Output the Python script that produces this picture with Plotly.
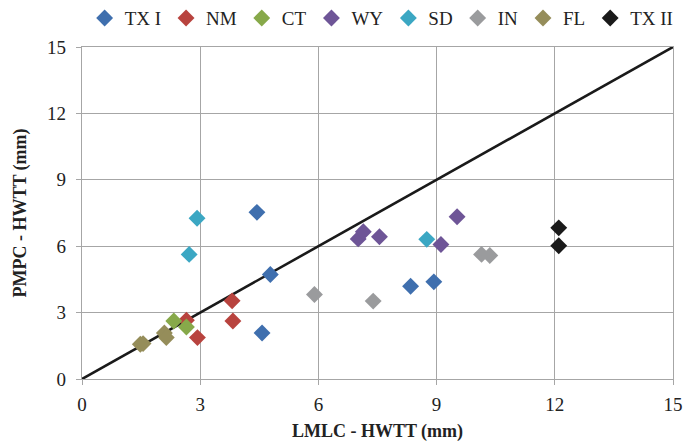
import plotly.graph_objects as go

series_names = ["TX I", "NM", "CT", "WY", "SD", "IN", "FL", "TX II"]
series_colors = ["#3F6FAE", "#B8433E", "#87A94A", "#6E5597", "#3BA7C3", "#9A9B9D", "#958D5A", "#1A1A1A"]

tx1_x = [4.44, 4.78, 4.57, 8.34, 8.93]
tx1_y = [7.53, 4.72, 2.08, 4.19, 4.39]
nm_x = [3.81, 3.83, 2.65, 2.93]
nm_y = [3.53, 2.62, 2.66, 1.87]
ct_x = [2.33, 2.65]
ct_y = [2.62, 2.35]
wy_x = [7.01, 7.14, 7.55, 9.52, 9.11]
wy_y = [6.33, 6.65, 6.43, 7.33, 6.08]
sd_x = [2.92, 2.72, 8.75]
sd_y = [7.26, 5.63, 6.31]
in_x = [5.90, 7.39, 10.14, 10.35]
in_y = [3.82, 3.52, 5.63, 5.58]
fl_x = [2.09, 2.14, 1.48, 1.55]
fl_y = [2.08, 1.87, 1.57, 1.60]
tx2_x = [12.10, 12.10]
tx2_y = [6.83, 6.02]

line_x = [0, 15]
line_y = [0, 15]
tick_vals = [0, 3, 6, 9, 12, 15]

xs = [tx1_x, nm_x, ct_x, wy_x, sd_x, in_x, fl_x, tx2_x]
ys = [tx1_y, nm_y, ct_y, wy_y, sd_y, in_y, fl_y, tx2_y]

fig = go.Figure()
fig.add_trace(go.Scatter(x=line_x, y=line_y, mode="lines",
                         line=dict(color="#1a1a1a", width=2.6),
                         showlegend=False, hoverinfo="skip"))
for name, color, x, y in zip(series_names, series_colors, xs, ys):
    fig.add_trace(go.Scatter(x=x, y=y, mode="markers", name=name,
                             marker=dict(symbol="diamond", size=13, color=color,
                                         line=dict(width=0))))

font_family = "Liberation Serif, Times New Roman, serif"
axis_common = dict(range=[0, 15], tickvals=tick_vals, showgrid=True,
                   gridcolor="#A6A6A6", gridwidth=1.3, zeroline=False,
                   showline=True, linecolor="#A6A6A6", linewidth=1.3,
                   ticks="outside", ticklen=5, tickcolor="#A6A6A6",
                   automargin=False, mirror=True,
                   tickfont=dict(family=font_family, size=19, color="#222"))

fig.update_layout(
    width=688, height=437,
    paper_bgcolor="white", plot_bgcolor="white",
    margin=dict(l=73.5, r=22.5, t=39, b=66, autoexpand=False),
    font=dict(family=font_family, color="#222"),
    showlegend=True,
    legend=dict(orientation="h", x=0.507, xanchor="center", y=1.087, yanchor="middle",
                font=dict(family=font_family, size=19, color="#222"),
                itemwidth=30, tracegroupgap=0),
    xaxis=dict(**axis_common, ticklabelstandoff=3,
               title=dict(text="<b>LMLC - HWTT (mm)</b>", font=dict(family=font_family, size=18), standoff=10)),
    yaxis=dict(**axis_common, ticklabelstandoff=6,
               title=dict(text="<b>PMPC - HWTT (mm)</b>", font=dict(family=font_family, size=18), standoff=15)),
)

fig.write_html("out.html")
